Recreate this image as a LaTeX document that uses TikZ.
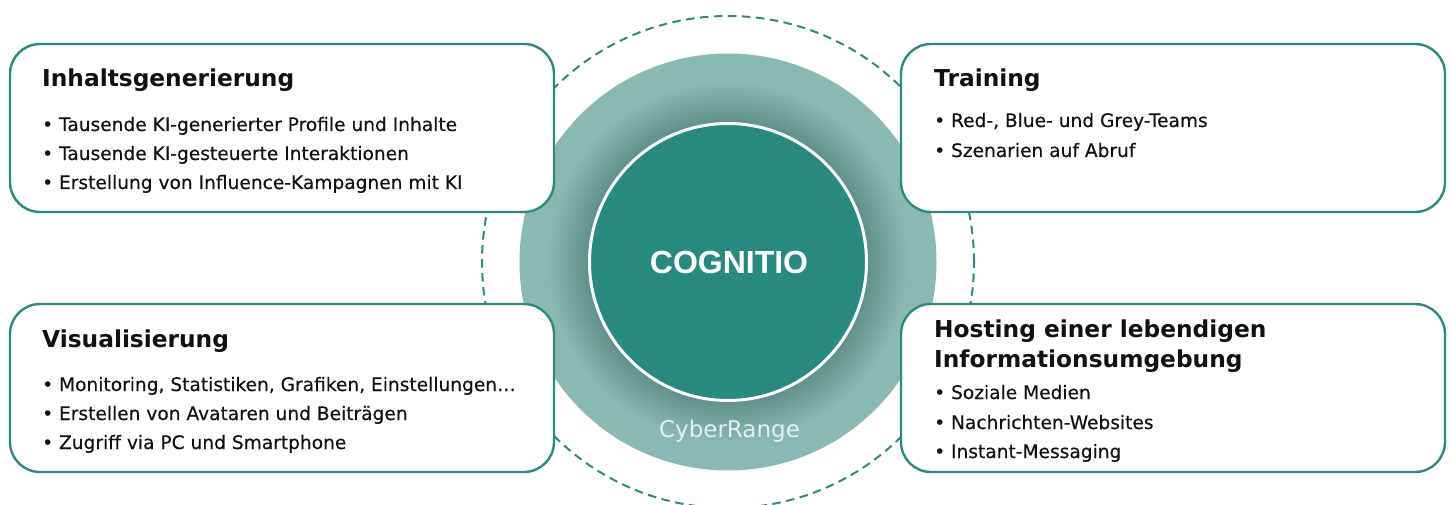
\documentclass[tikz,border=0pt]{standalone}
\usepackage{fontspec}
\setmainfont{DejaVu Sans}
\newfontfamily\itemfont{DejaVu Sans}[FakeBold=0.35]
\newfontfamily\logofont{Liberation Sans}
\definecolor{cgdark}{HTML}{28897F}
\definecolor{cglight}{HTML}{8AB9B4}
\definecolor{cgline}{HTML}{2E8A80}
\definecolor{cgrange}{HTML}{E2EFED}
\definecolor{cgtext}{HTML}{111111}

\tikzset{
  infobox/.style={draw=cgline, line width=2.4pt, fill=white,
    rounded corners=30pt, minimum width=544pt, minimum height=168pt,
    inner sep=0pt},
  headtxt/.style={anchor=base west, inner sep=0pt, text=cgtext,
    font=\fontsize{23.3}{28}\selectfont\bfseries},
  itemtxt/.style={anchor=base west, inner sep=0pt, text=cgtext,
    font=\itemfont\fontsize{18.6}{22}\selectfont},
}

\begin{document}
\begin{tikzpicture}[x=1pt,y=-1pt]
\useasboundingbox (0,0) rectangle (1451,505);

% outer dashed orbit
\coordinate (c) at (728,262);
\draw[cgline, line width=2pt, dash pattern=on 8.5pt off 5.5pt] (c) circle[radius=246pt];

% CyberRange ring with a soft shadow towards the core
\fill[cglight] (c) circle[radius=208.5pt];
\foreach \r in {180,179,...,139}
  \fill[black, opacity=0.005] (c) circle[radius=\r pt];

% COGNITIO core
\node[circle, fill=cgdark, draw=white, line width=3pt, minimum size=277pt,
      inner sep=0pt] (core) at (c) {};
\node[anchor=base, inner sep=0pt, text=white,
      font=\logofont\fontsize{32}{36}\selectfont\bfseries] (cog) at (729,273) {COGNITIO};
\node[anchor=base, inner sep=0pt, text=cgrange,
      font=\fontsize{23}{26}\selectfont] (range) at (729.5,437) {CyberRange};

% four information boxes
\node[infobox] (tl) at (282,128) {};
\node[infobox] (tr) at (1173,128) {};
\node[infobox] (bl) at (282,388) {};
\node[infobox] (br) at (1173,388) {};

% Inhaltsgenerierung
\node[headtxt] (tlh) at (42,87) {Inhaltsgenerierung};
\node[itemtxt] (tl1) at (42,131) {• Tausende KI-generierter Profile und Inhalte};
\node[itemtxt] (tl2) at (42,160) {• Tausende KI-gesteuerte Interaktionen};
\node[itemtxt] (tl3) at (42,189) {• Erstellung von Influence-Kampagnen mit KI};

% Training
\node[headtxt] (trh) at (934,87) {Training};
\node[itemtxt] (tr1) at (934,127) {• Red-, Blue- und Grey-Teams};
\node[itemtxt] (tr2) at (934,157) {• Szenarien auf Abruf};

% Visualisierung
\node[headtxt] (blh) at (42,347) {Visualisierung};
\node[itemtxt] (bl1) at (42,391) {• Monitoring, Statistiken, Grafiken, Einstellungen…};
\node[itemtxt] (bl2) at (42,420) {• Erstellen von Avataren und Beiträgen};
\node[itemtxt] (bl3) at (42,449) {• Zugriff via PC und Smartphone};

% Hosting
\node[headtxt] (brh1) at (934,337) {Hosting einer lebendigen};
\node[headtxt] (brh2) at (934,367) {Informationsumgebung};
\node[itemtxt] (br1) at (934,399) {• Soziale Medien};
\node[itemtxt] (br2) at (934,429) {• Nachrichten-Websites};
\node[itemtxt] (br3) at (934,458) {• Instant-Messaging};
\end{tikzpicture}
\end{document}
